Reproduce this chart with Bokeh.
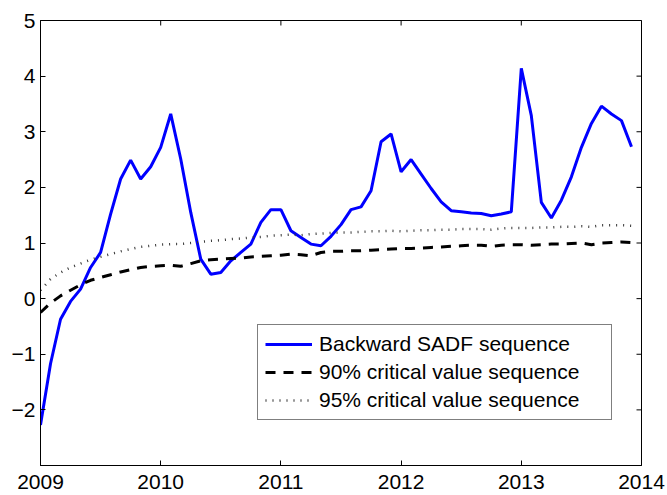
import numpy as np
from bokeh.plotting import figure
from bokeh.models import FixedTicker, Range1d, Legend, LegendItem
from bokeh.embed import file_html
from bokeh.resources import INLINE

# ---- data (monthly, Jan 2009 .. Dec 2013) ----
start_year = 2009
n_months = 60
months = start_year + np.arange(n_months) / 12.0

sadf = [-2.27, -1.17, -0.37, -0.05, 0.17, 0.56, 0.83, 1.52, 2.15, 2.49,
        2.15, 2.37, 2.72, 3.32, 2.51, 1.55, 0.71, 0.44, 0.47, 0.68,
        0.83, 0.98, 1.37, 1.60, 1.60, 1.22, 1.10, 0.98, 0.95, 1.12,
        1.33, 1.60, 1.65, 1.94, 2.82, 2.96, 2.28, 2.50, 2.24, 1.98,
        1.74, 1.58, 1.56, 1.54, 1.53, 1.49, 1.52, 1.56, 4.14, 3.29,
        1.73, 1.45, 1.77, 2.19, 2.72, 3.15, 3.46, 3.32, 3.20, 2.73]

cv90 = [-0.25, -0.08, 0.05, 0.15, 0.25, 0.33, 0.38, 0.43, 0.48, 0.52,
        0.56, 0.58, 0.59, 0.60, 0.58, 0.63, 0.68, 0.70, 0.71, 0.72,
        0.73, 0.75, 0.76, 0.77, 0.78, 0.80, 0.79, 0.77, 0.83, 0.85,
        0.85, 0.86, 0.86, 0.87, 0.88, 0.89, 0.90, 0.90, 0.91, 0.92,
        0.93, 0.94, 0.95, 0.96, 0.96, 0.94, 0.96, 0.97, 0.97, 0.96,
        0.97, 0.98, 0.98, 0.99, 1.00, 0.97, 1.00, 1.01, 1.02, 1.01]

cv95 = [0.15, 0.35, 0.47, 0.56, 0.63, 0.70, 0.75, 0.80, 0.85, 0.89,
        0.93, 0.95, 0.97, 0.98, 0.98, 1.00, 1.02, 1.04, 1.05, 1.07,
        1.08, 1.10, 1.11, 1.13, 1.14, 1.15, 1.14, 1.16, 1.17, 1.18,
        1.19, 1.19, 1.20, 1.21, 1.21, 1.22, 1.21, 1.22, 1.23, 1.23,
        1.24, 1.24, 1.25, 1.25, 1.25, 1.24, 1.26, 1.27, 1.27, 1.27,
        1.28, 1.28, 1.29, 1.29, 1.30, 1.29, 1.32, 1.32, 1.32, 1.31]

x_ticks = [2009, 2010, 2011, 2012, 2013, 2014]
y_ticks = [-2, -1, 0, 1, 2, 3, 4, 5]
y_tick_labels = {-2: "\u22122", -1: "\u22121"}

labels = ["Backward SADF sequence", "90% critical value sequence",
          "95% critical value sequence"]

x_min, x_max = 2009, 2014
y_min, y_max = -3, 5

FONT = "Liberation Sans"
FS = "21px"

p = figure(width=667, height=495, output_backend="svg", toolbar_location=None,
           x_range=Range1d(x_min, x_max), y_range=Range1d(y_min, y_max),
           min_border_left=40, min_border_right=26, min_border_top=20,
           min_border_bottom=30)
p.grid.visible = False
p.outline_line_color = "black"
p.outline_line_width = 1
p.background_fill_color = "white"
p.border_fill_color = "white"

def style_axis(ax, ticks):
    ax.ticker = FixedTicker(ticks=ticks)
    ax.major_tick_in = 5
    ax.major_tick_out = 0
    ax.minor_tick_line_color = None
    ax.axis_line_color = "black"
    ax.major_tick_line_color = "black"
    ax.major_label_text_font = FONT
    ax.major_label_text_color = "black"
    ax.major_label_text_font_size = FS
    ax.major_label_standoff = 5

style_axis(p.xaxis[0], x_ticks)
p.xaxis[0].major_label_standoff = 9
style_axis(p.yaxis[0], y_ticks)
p.yaxis[0].major_label_overrides = y_tick_labels

# mirrored inward ticks on the right and top edges of the box
p.scatter([x_max] * len(y_ticks), y_ticks, marker="dash", size=10,
          line_color="black", line_width=1)
p.scatter(x_ticks, [y_max] * len(x_ticks), marker="dash", size=10, angle=np.pi / 2,
          line_color="black", line_width=1)

r1 = p.line(months, sadf, line_color="#0000FF", line_width=3)
r2 = p.line(months, cv90, line_color="black", line_width=3, line_dash="10 8")
r3 = p.line(months, cv95, line_color="#333333", line_width=2.5, line_dash="1 6")

legend = Legend(items=[LegendItem(label=labels[0], renderers=[r1]),
                       LegendItem(label=labels[1], renderers=[r2]),
                       LegendItem(label=labels[2], renderers=[r3])],
                location=(217, 45))
legend.border_line_color = "black"
legend.border_line_width = 1
legend.background_fill_color = "white"
legend.background_fill_alpha = 1
legend.label_text_font = FONT
legend.label_text_font_size = FS
legend.label_text_color = "black"
legend.glyph_width = 47
legend.glyph_height = 20
legend.label_height = 20
legend.label_width = 285
legend.label_standoff = 7
legend.padding = 7
legend.spacing = 4
legend.margin = 0
p.add_layout(legend)

open("out.html", "w").write(file_html(p, INLINE))
